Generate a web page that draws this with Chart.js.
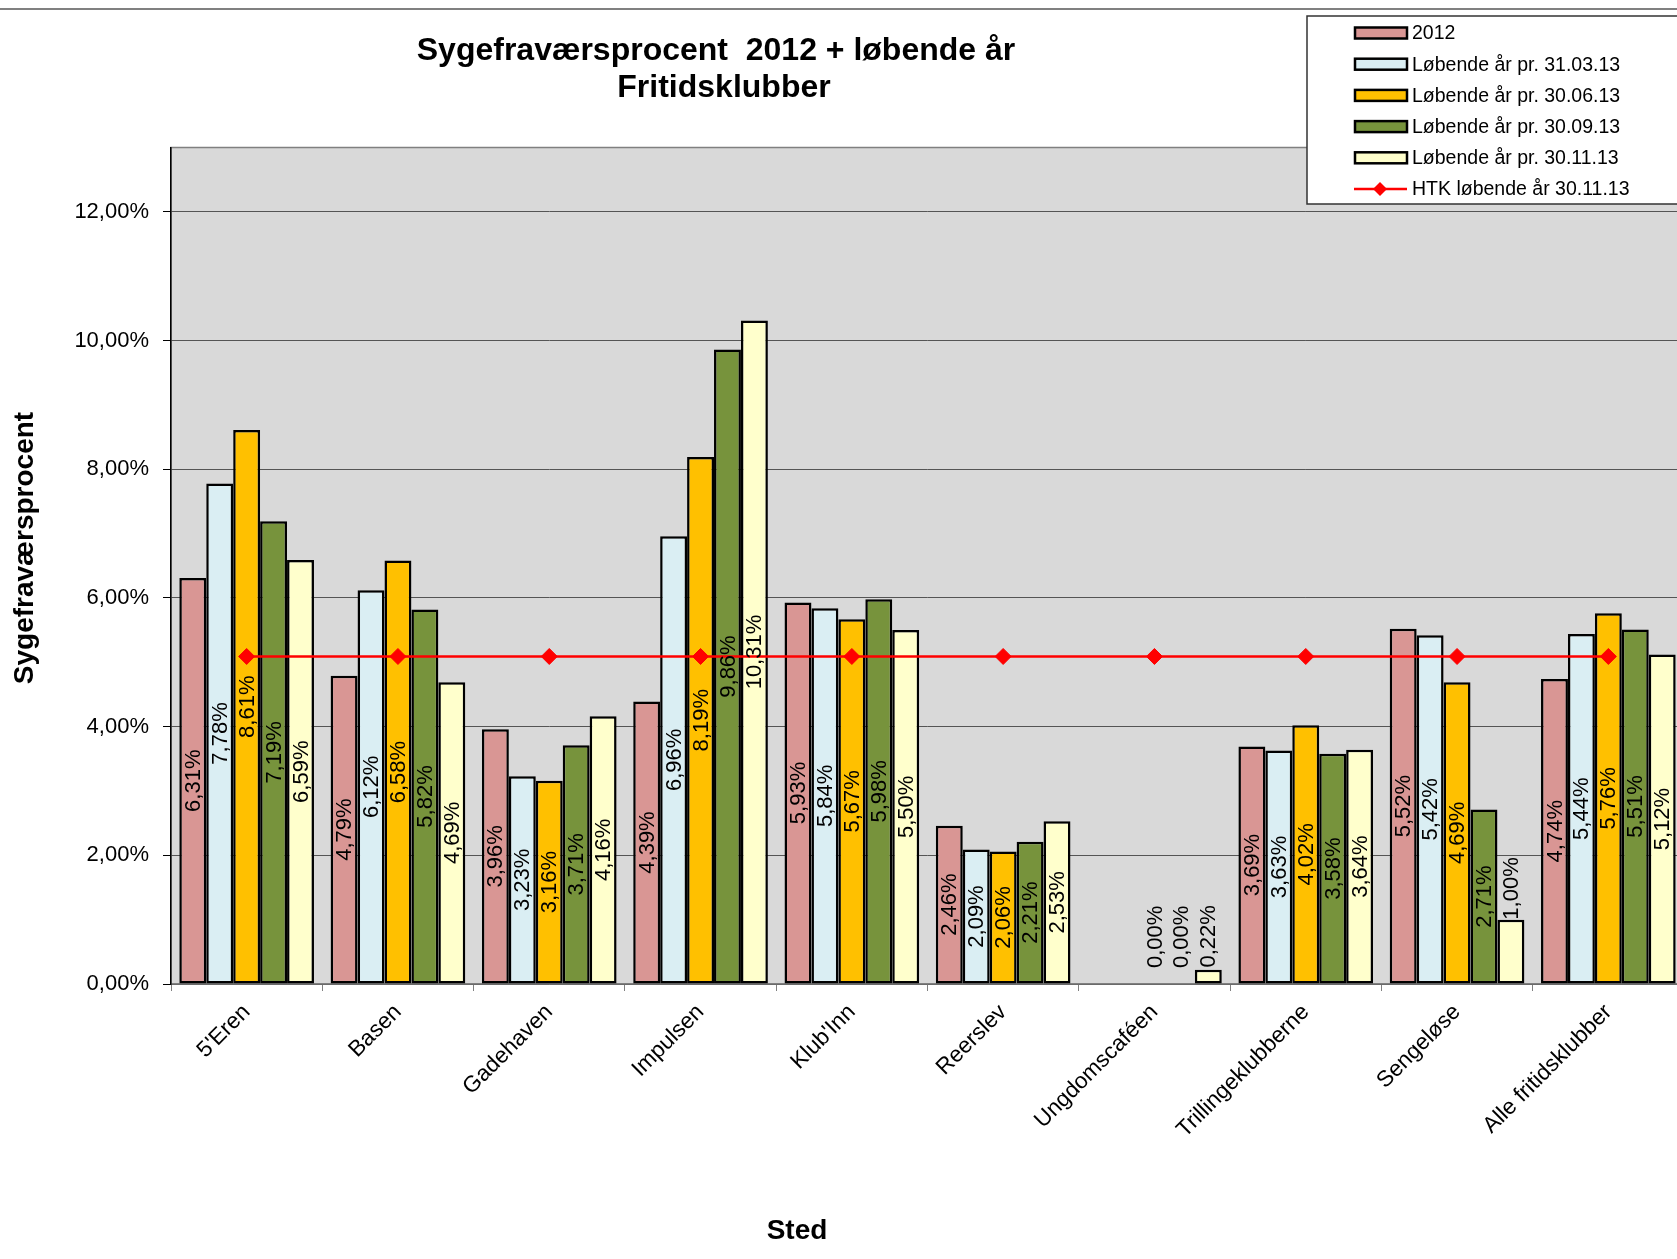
<!DOCTYPE html>
<html>
<head>
<meta charset="utf-8">
<script src="https://cdn.jsdelivr.net/npm/chart.js@4/dist/chart.umd.min.js"></script>
<style>
    html, body { margin: 0; padding: 0; overflow: hidden; background: #fff; }
    #wrap { width: 1700px; height: 1259px; }
</style>
</head>
<body>
<div id="wrap"><canvas id="chart" width="1700" height="1259"></canvas></div>
<script>
const categories = ["5'Eren", 'Basen', 'Gadehaven', 'Impulsen', "Klub'Inn", 'Reerslev', 'Ungdomscaféen', 'Trillingeklubberne', 'Sengeløse', 'Alle fritidsklubber'];
const seriesNames = ['2012', 'Løbende år pr. 31.03.13', 'Løbende år pr. 30.06.13', 'Løbende år pr. 30.09.13', 'Løbende år pr. 30.11.13'];
const values2012 = [6.31, 4.79, 3.96, 4.39, 5.93, 2.46, null, 3.69, 5.52, 4.74];
const values0313 = [7.78, 6.12, 3.23, 6.96, 5.84, 2.09, null, 3.63, 5.42, 5.44];
const values0613 = [8.61, 6.58, 3.16, 8.19, 5.67, 2.06, 0.00, 4.02, 4.69, 5.76];
const values0913 = [7.19, 5.82, 3.71, 9.86, 5.98, 2.21, 0.00, 3.58, 2.71, 5.51];
const values1113 = [6.59, 4.69, 4.16, 10.31, 5.50, 2.53, 0.22, 3.64, 1.00, 5.12];
const htkName = 'HTK løbende år 30.11.13';
const htkValues = [5.09, 5.09, 5.09, 5.09, 5.09, 5.09, 5.09, 5.09, 5.09, 5.09];
const yMax = 13;
const yStep = 2;

const titleLines = ['Sygefraværsprocent  2012 + løbende år', 'Fritidsklubber'];
const yTitle = 'Sygefraværsprocent';
const xTitle = 'Sted';

const barColors = ['#d99694', '#daeef3', '#ffc000', '#77933c', '#ffffcc'];
const FONT = '"Liberation Sans", Arial, sans-serif';

const pct = v => v.toFixed(2).replace('.', ',') + '%';

const decor = {
    id: 'decor',
    beforeDraw(chart) {
        const {ctx, chartArea: a} = chart;
        ctx.save();
        ctx.fillStyle = '#fff';
        ctx.fillRect(0, 0, chart.width, chart.height);
        ctx.fillStyle = '#d9d9d9';
        ctx.fillRect(a.left, a.top, a.right - a.left, a.bottom - a.top);
        ctx.strokeStyle = '#808080';
        ctx.lineWidth = 1.5;
        ctx.strokeRect(a.left, a.top, a.right - a.left, a.bottom - a.top);
        // thin rule across the top of the sheet
        ctx.lineWidth = 2;
        ctx.beginPath();
        ctx.moveTo(0, 9);
        ctx.lineTo(chart.width, 9);
        ctx.stroke();
        ctx.restore();
    },
    afterDatasetsDraw(chart) {
        const ctx = chart.ctx;
        ctx.save();
        ctx.font = '22px ' + FONT;
        ctx.fillStyle = '#000';
        ctx.textAlign = 'center';
        ctx.textBaseline = 'middle';
        chart.data.datasets.forEach((ds, i) => {
            if(ds.type !== 'bar') return;
            chart.getDatasetMeta(i).data.forEach((el, j) => {
                const v = ds.data[j];
                if(v === null) return;
                const {x, y, base} = el.getProps(['x', 'y', 'base'], true);
                const txt = pct(v);
                const w = ctx.measureText(txt).width;
                let cy = (y + base) / 2;
                if(w + 4 > base - y) cy = Math.min(y, base - 16) - w / 2;
                ctx.save();
                ctx.translate(x, cy);
                ctx.rotate(-Math.PI / 2);
                ctx.fillText(txt, 0, 1);
                ctx.restore();
            });
        });
        ctx.restore();
    },
    afterDraw(chart) {
        const ctx = chart.ctx;
        ctx.save();
        ctx.fillStyle = '#000';
        ctx.textAlign = 'center';
        ctx.textBaseline = 'middle';

        ctx.font = 'bold 32px ' + FONT;
        ctx.fillText(titleLines[0], 716, 51);
        ctx.fillText(titleLines[1], 724, 88);

        ctx.font = 'bold 28px ' + FONT;
        ctx.fillText(xTitle, 797, 1231);
        ctx.save();
        ctx.translate(25, 548);
        ctx.rotate(-Math.PI / 2);
        ctx.fillText(yTitle, 0, 0);
        ctx.restore();

        // legend box
        ctx.fillStyle = '#fff';
        ctx.fillRect(1307, 16, 420, 188);
        ctx.strokeStyle = '#333';
        ctx.lineWidth = 1.5;
        ctx.strokeRect(1307, 16, 420, 188);
        ctx.font = '19.5px ' + FONT;
        ctx.textAlign = 'left';
        chart.data.datasets.forEach((ds, i) => {
            const ry = 33 + i * 31.2;
            if(ds.type === 'bar') {
                ctx.fillStyle = ds.backgroundColor;
                ctx.fillRect(1355, ry - 5.5, 52, 11);
                ctx.strokeStyle = '#000';
                ctx.lineWidth = 2.5;
                ctx.strokeRect(1355, ry - 5.5, 52, 11);
            } else {
                ctx.strokeStyle = ds.borderColor;
                ctx.lineWidth = 2.5;
                ctx.beginPath();
                ctx.moveTo(1354, ry);
                ctx.lineTo(1407, ry);
                ctx.stroke();
                ctx.fillStyle = ds.borderColor;
                ctx.beginPath();
                ctx.moveTo(1380, ry - 7);
                ctx.lineTo(1387, ry);
                ctx.lineTo(1380, ry + 7);
                ctx.lineTo(1373, ry);
                ctx.closePath();
                ctx.fill();
            }
            ctx.fillStyle = '#000';
            ctx.fillText(ds.label, 1412, ry + 1);
        });
        ctx.restore();
    }
};

const seriesValues = [values2012, values0313, values0613, values0913, values1113];
const datasets = seriesValues.map((vals, i) => ({
    type: 'bar',
    label: seriesNames[i],
    data: vals,
    backgroundColor: barColors[i],
    borderColor: '#000',
    borderWidth: 2.5,
    borderSkipped: false,
    categoryPercentage: 0.89,
    barPercentage: 1,
    order: 1
}));
datasets.push({
    type: 'line',
    label: htkName,
    data: htkValues,
    borderColor: '#ff0000',
    borderWidth: 2.5,
    pointStyle: 'rectRot',
    pointRadius: 8,
    pointBackgroundColor: '#ff0000',
    pointBorderColor: '#ff0000',
    pointBorderWidth: 1,
    order: 0
});

new Chart(document.getElementById('chart'), {
    data: {labels: categories, datasets},
    plugins: [decor],
    options: {
        responsive: false,
        animation: false,
        layout: {padding: {top: 147.5, right: 16, left: 0, bottom: 0}},
        plugins: {legend: {display: false}, title: {display: false}, tooltip: {enabled: false}},
        scales: {
            x: {
                type: 'category',
                offset: true,
                afterFit: scale => { scale.height = 275; },
                grid: {offset: true, drawOnChartArea: false, tickLength: 7, color: '#808080', tickColor: '#808080'},
                border: {color: '#808080', width: 1.5},
                ticks: {
                    autoSkip: false,
                    minRotation: 45,
                    maxRotation: 45,
                    padding: 8,
                    color: '#000',
                    font: {family: FONT, size: 22.5}
                }
            },
            y: {
                min: 0,
                max: yMax,
                afterFit: scale => { scale.width = 171; },
                grid: {color: '#555', lineWidth: 1, tickLength: 8, tickColor: '#000'},
                border: {color: '#000', width: 1.5},
                ticks: {
                    stepSize: yStep,
                    includeBounds: false,
                    padding: 14,
                    color: '#000',
                    font: {family: FONT, size: 22},
                    callback: v => (v % yStep === 0 ? pct(v) : '')
                }
            }
        }
    }
});
</script>
</body>
</html>
